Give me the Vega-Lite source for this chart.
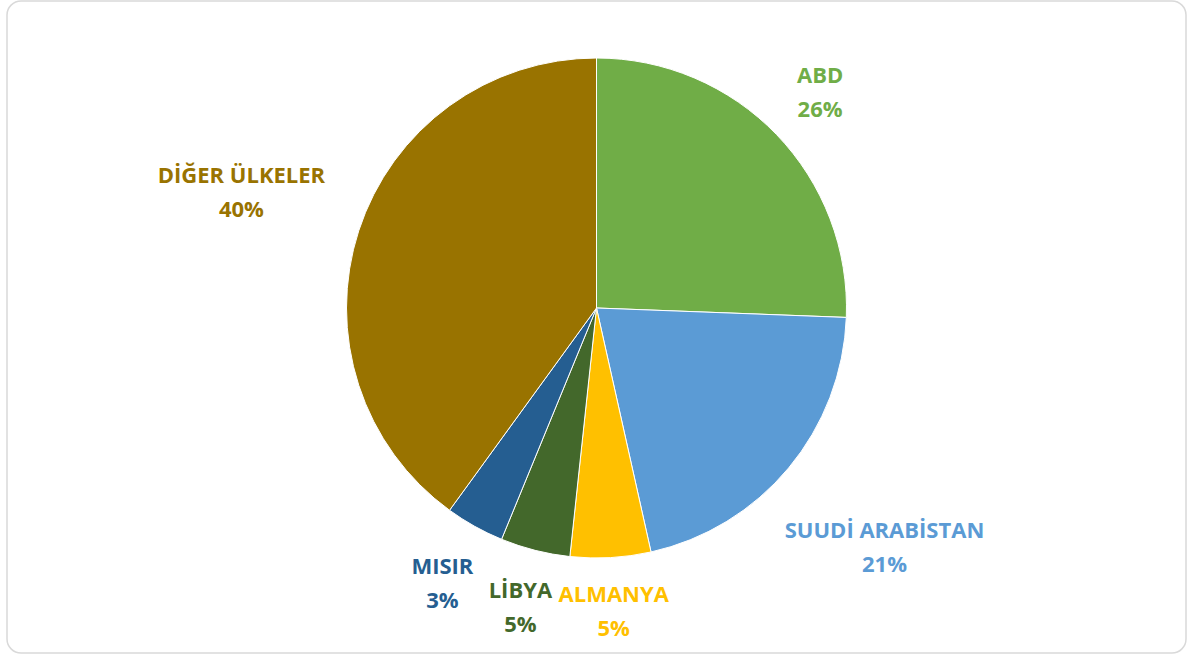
{
  "$schema": "https://vega.github.io/schema/vega-lite/v6.json",
  "width": 1188,
  "height": 655,
  "autosize": {"type": "fit", "contains": "padding"},
  "padding": {"left": 7, "top": 1, "right": 2, "bottom": 2},
  "background": "white",
  "view": {"stroke": "#d9d9d9", "strokeWidth": 1.5, "cornerRadius": 14, "fill": "white"},
  "data": {
    "values": [
      {"country": "ABD", "value": 25.6, "pct": "26%", "order": 1},
      {"country": "SUUDİ ARABİSTAN", "value": 20.9, "pct": "21%", "order": 2},
      {"country": "ALMANYA", "value": 5.2, "pct": "5%", "order": 3},
      {"country": "LİBYA", "value": 4.5, "pct": "5%", "order": 4},
      {"country": "MISIR", "value": 3.8, "pct": "3%", "order": 5},
      {"country": "DİĞER ÜLKELER", "value": 40.0, "pct": "40%", "order": 6}
    ]
  },
  "transform": [
    {"stack": "value", "groupby": [], "sort": [{"field": "order"}], "as": ["v0", "v1"]},
    {"calculate": "(datum.v0 + datum.v1) / 2", "as": "mid"},
    {"calculate": "datum.country + '\\n' + datum.pct", "as": "label"}
  ],
  "layer": [
    {
      "mark": {"type": "arc", "outerRadius": 250, "yOffset": -19, "stroke": "white", "strokeWidth": 1},
      "encoding": {
        "theta": {"field": "v0", "type": "quantitative", "stack": null, "scale": {"domain": [0, 100]}},
        "theta2": {"field": "v1"},
        "color": {
          "field": "country",
          "type": "nominal",
          "scale": {
            "domain": ["ABD", "SUUDİ ARABİSTAN", "ALMANYA", "LİBYA", "MISIR", "DİĞER ÜLKELER"],
            "range": ["#70AD47", "#5B9BD5", "#FFC000", "#43682B", "#255E91", "#997300"]
          },
          "legend": null
        }
      }
    },
    {
      "mark": {
        "type": "text",
        "yOffset": -19,
        "dy": -17,
        "font": "Open Sans",
        "fontWeight": "bold",
        "fontSize": 22,
        "lineBreak": "\n",
        "lineHeight": 34,
        "baseline": "middle",
        "align": "center"
      },
      "encoding": {
        "theta": {"field": "mid", "type": "quantitative", "stack": null, "scale": {"domain": [0, 100]}},
        "radius": {"value": {"expr": "280 + 7 * length(datum.country) * abs(sin(datum.mid * PI / 50)) + 22 * abs(cos(datum.mid * PI / 50))"}},
        "text": {"field": "label"},
        "color": {"field": "country", "type": "nominal", "legend": null}
      }
    }
  ]
}
